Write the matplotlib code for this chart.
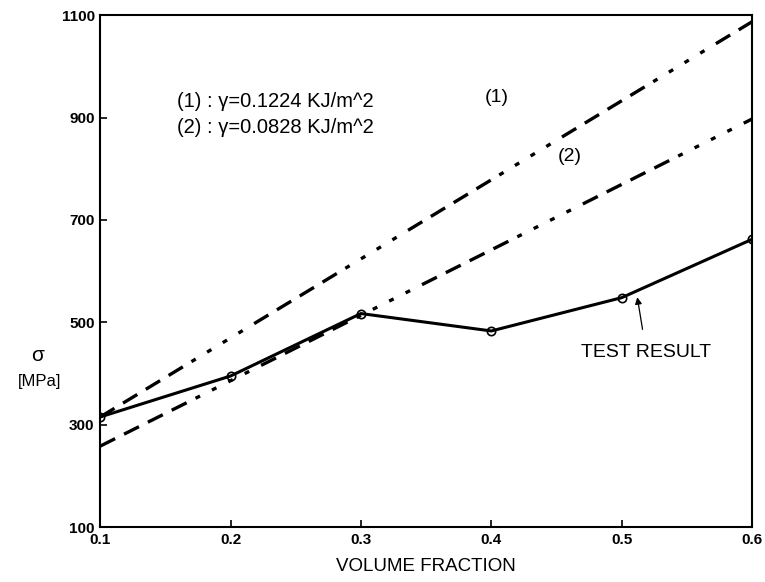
import matplotlib
matplotlib.use("Agg")
import matplotlib.pyplot as plt

plt.rcParams["font.family"] = ["Liberation Sans", "DejaVu Sans"]

# data
volume_fraction = [0.1, 0.2, 0.3, 0.4, 0.5, 0.6]
test_result = [315, 395, 517, 483, 548, 662]

model_x = [0.1, 0.6]
model_1 = [315, 1087]
model_2 = [258, 897]

x_ticks = [0.1, 0.2, 0.3, 0.4, 0.5, 0.6]
y_ticks = [100, 300, 500, 700, 900, 1100]

fig = plt.figure(figsize=(7.65, 5.82), dpi=100)
ax = fig.add_axes([0.131, 0.0945, 0.852, 0.8795])

# matlab style "-." : a run of dashes, then a run of dots
dash_pattern = (0, (5, 3, 5, 3, 5, 3, 5, 3, 1.5, 4, 1.5, 4, 1.5, 4, 1.5, 4))
ax.plot(model_x, model_1, color="black", linewidth=2.4, linestyle=dash_pattern)
ax.plot(model_x, model_2, color="black", linewidth=2.4, linestyle=dash_pattern)
ax.plot(volume_fraction, test_result, color="black", linewidth=2.2,
        marker="o", markersize=6, markerfacecolor="none", markeredgewidth=1.2)

ax.set_xlim(0.1, 0.6)
ax.set_ylim(100, 1100)
ax.set_xticks(x_ticks)
ax.set_xticklabels([f"{v:g}" for v in x_ticks], fontweight="bold")
ax.set_yticks(y_ticks)
ax.set_yticklabels([str(v) for v in y_ticks], fontweight="bold")
ax.tick_params(direction="in", length=5, width=1.2, labelsize=11, pad=4)
ax.tick_params(top=False, right=False)
for spine in ax.spines.values():
    spine.set_linewidth(1.5)

ax.text(0.159, 932, "(1) : \u03b3=0.1224 KJ/m^2", fontsize=14.5, va="center")
ax.text(0.159, 881, "(2) : \u03b3=0.0828 KJ/m^2", fontsize=14.5, va="center")
ax.text(0.404, 940, "(1)", fontsize=14, ha="center", va="center")
ax.text(0.46, 823, "(2)", fontsize=14, ha="center", va="center")

ax.annotate("TEST RESULT", xy=(0.512, 549), xytext=(0.519, 440),
            fontsize=14, ha="center", va="center",
            arrowprops=dict(arrowstyle="-|>", color="black", lw=0.9,
                            mutation_scale=10, shrinkA=9, shrinkB=0))

ax.set_xlabel("VOLUME FRACTION", fontsize=13.5, labelpad=8)
fig.text(0.049, 0.39, "\u03c3", fontsize=15, ha="center", va="center")
fig.text(0.052, 0.345, "[MPa]", fontsize=12, ha="center", va="center")

fig.savefig("out.png", dpi=100)
